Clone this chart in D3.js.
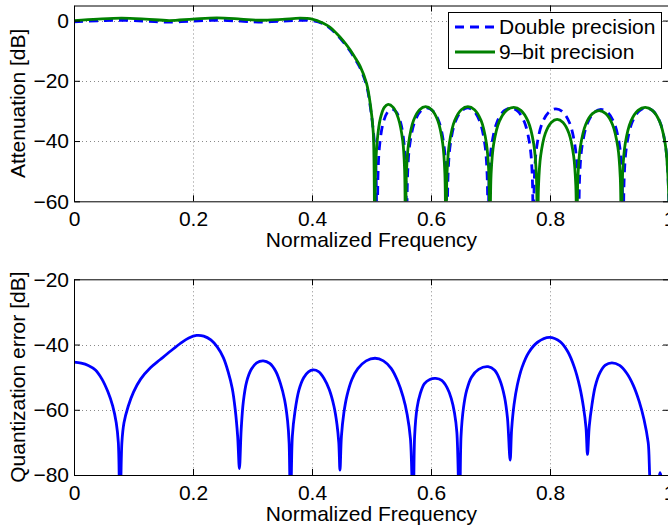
<!DOCTYPE html>
<html>
<head>
<meta charset="utf-8">
<script src="https://cdn.jsdelivr.net/npm/d3@7"></script>
<style>
  body { margin: 0; background: #fff; }
  text { font-family: "Liberation Sans", Arial, Helvetica, sans-serif; fill: #000; }
</style>
</head>
<body>
<svg id="chart" width="668" height="528"></svg>
<script>
// tick values / labels
var xTicks = [0, 0.2, 0.4, 0.6, 0.8, 1]
var xTickLabels = ["0", "0.2", "0.4", "0.6", "0.8", "1"]
var topYTicks = [0, -20, -40, -60]
var bottomYTicks = [-20, -40, -60, -80]
var legendLabels = ["Double precision", "9\u2013bit precision"]

// [normalized frequency, dB]
var doublePrecision = [
  [0, -0.4], [0.04, -0.1], [0.08, 0.1], [0.12, -0.2], [0.155, -0.5], [0.2, -0.2], [0.24, 0.1],
  [0.28, -0.2], [0.31, -0.5], [0.35, -0.2], [0.385, 0.1], [0.40, 0.0], [0.419, -1.1], [0.43, -2.5],
  [0.441, -4.5], [0.453, -7.2], [0.464, -10.1], [0.473, -13.0], [0.481, -15.8], [0.4916, -21.5],
  [0.4986, -29.5], [0.504, -38.5], [0.507, -46], [0.5097, -80],
  [0.5109, -51.5], [0.5136, -41.5], [0.5196, -34.0], [0.527, -30.4], [0.5344, -29.4], [0.5417, -30.4],
  [0.5491, -34.0], [0.5551, -41.5], [0.5578, -51.5], [0.559, -80],
  [0.5607, -51.1], [0.5644, -41.1], [0.5726, -33.6], [0.5828, -30.0], [0.593, -29.0], [0.6032, -30.0],
  [0.6134, -33.6], [0.6216, -41.1], [0.6253, -51.1], [0.627, -80],
  [0.6287, -51.1], [0.6325, -41.1], [0.6408, -33.6], [0.6512, -30.0], [0.6615, -29.0], [0.6719, -30.0],
  [0.6822, -33.6], [0.6905, -41.1], [0.6943, -51.1], [0.696, -80],
  [0.6979, -51.1], [0.7021, -41.1], [0.7112, -33.6], [0.7226, -30.0], [0.734, -29.0], [0.7454, -30.0],
  [0.7568, -33.6], [0.7659, -41.1], [0.7701, -51.1], [0.772, -80],
  [0.7739, -51.4], [0.7781, -41.4], [0.7872, -33.9], [0.7986, -30.3], [0.81, -29.3], [0.8214, -30.3],
  [0.8328, -33.9], [0.8419, -41.4], [0.8461, -51.4], [0.848, -80],
  [0.8499, -51.6], [0.854, -41.6], [0.863, -34.1], [0.8743, -30.5], [0.8855, -29.5], [0.8968, -30.5],
  [0.908, -34.1], [0.917, -41.6], [0.9211, -51.6], [0.923, -80],
  [0.9249, -51.1], [0.9292, -41.1], [0.9384, -33.6], [0.95, -30.0], [0.9615, -29.0], [0.973, -30.0],
  [0.9846, -33.6], [0.9938, -41.1], [0.9981, -51.1], [1.0, -62]
]

var nineBitPrecision = [
  [0, 0.0], [0.04, 0.5], [0.08, 0.8], [0.12, 0.5], [0.16, 0.0], [0.20, 0.5], [0.24, 0.9], [0.28, 0.5],
  [0.31, 0.1], [0.35, 0.4], [0.38, 0.8], [0.40, 0.5], [0.419, -0.9], [0.43, -2.2], [0.441, -4.2],
  [0.453, -6.8], [0.464, -9.7], [0.473, -12.5], [0.481, -15.2], [0.4916, -20.8], [0.4986, -28.6],
  [0.503, -37.3], [0.5055, -80],
  [0.5068, -49.9], [0.5096, -39.9], [0.515, -32.4], [0.5215, -28.8], [0.528, -27.8], [0.5365, -28.8],
  [0.545, -32.4], [0.5525, -39.9], [0.5557, -49.9], [0.557, -80],
  [0.5587, -50.7], [0.5624, -40.7], [0.5706, -33.2], [0.5808, -29.6], [0.591, -28.6], [0.6012, -29.6],
  [0.6114, -33.2], [0.6196, -40.7], [0.6233, -50.7], [0.625, -80],
  [0.6269, -50.7], [0.6309, -40.7], [0.6398, -33.2], [0.6509, -29.6], [0.662, -28.6], [0.6731, -29.6],
  [0.6842, -33.2], [0.6931, -40.7], [0.6972, -50.7], [0.699, -80],
  [0.701, -50.9], [0.7054, -40.9], [0.715, -33.4], [0.727, -29.8], [0.739, -28.8], [0.751, -29.8],
  [0.763, -33.4], [0.7726, -40.9], [0.777, -50.9], [0.779, -80],
  [0.7807, -54.9], [0.7843, -44.9], [0.7922, -37.4], [0.8021, -33.8], [0.812, -32.8], [0.8219, -33.8],
  [0.8318, -37.4], [0.8397, -44.9], [0.8434, -54.9], [0.845, -80],
  [0.8469, -52.0], [0.851, -42.0], [0.86, -34.5], [0.8713, -30.9], [0.8825, -29.9], [0.8938, -30.9],
  [0.905, -34.5], [0.914, -42.0], [0.9181, -52.0], [0.920, -80],
  [0.922, -50.9], [0.9264, -40.9], [0.936, -33.4], [0.948, -29.8], [0.96, -28.8], [0.972, -29.8],
  [0.984, -33.4], [0.9936, -40.9], [0.998, -50.9], [1.0, -62]
]

var quantizationError = [
  [0, -45.4], [0.012, -45.7], [0.024, -46.4], [0.036, -47.8], [0.047, -50.6], [0.057, -54.5],
  [0.065, -58.8], [0.071, -64], [0.0745, -70], [0.0773, -95],
  [0.0805, -70], [0.084, -64], [0.091, -59], [0.1, -54.6], [0.112, -50.6], [0.128, -47.2],
  [0.145, -44.6], [0.163, -41.9], [0.18, -39.5], [0.193, -38], [0.206, -37.2], [0.218, -37.4],
  [0.23, -38.6], [0.241, -40.8], [0.251, -44], [0.259, -48.3], [0.266, -53.5], [0.271, -60],
  [0.275, -68], [0.278, -78],
  [0.281, -66], [0.2846, -57.5], [0.29, -51.5], [0.298, -47.6], [0.307, -45.6], [0.318, -45.0],
  [0.329, -45.8], [0.339, -48.2], [0.347, -52], [0.354, -57], [0.359, -63.5], [0.3615, -70], [0.364, -95],
  [0.367, -68], [0.3714, -60.5], [0.378, -54], [0.386, -50.2], [0.394, -48.4], [0.402, -47.8],
  [0.411, -48.3], [0.42, -50.3], [0.429, -53.8], [0.437, -59], [0.442, -64.5], [0.445, -70], [0.447, -78.5],
  [0.4495, -68], [0.4535, -61], [0.459, -55.5], [0.467, -50.7], [0.477, -47.4], [0.491, -45], [0.506, -44.2],
  [0.52, -45], [0.533, -47.3], [0.544, -51.2], [0.553, -56], [0.56, -61.5], [0.5655, -69], [0.570, -95],
  [0.5725, -68], [0.5765, -59.5], [0.582, -55], [0.589, -52], [0.598, -50.7], [0.608, -50.4], [0.618, -51],
  [0.627, -53.2], [0.634, -56.5], [0.6395, -61], [0.6435, -67], [0.648, -95],
  [0.6505, -68], [0.6545, -59.5], [0.66, -54], [0.668, -50], [0.68, -47.6], [0.696, -46.8], [0.707, -47.9],
  [0.716, -51], [0.7235, -56], [0.7285, -62.5], [0.733, -75.4],
  [0.7355, -66], [0.7395, -58.5], [0.745, -52.5], [0.753, -47], [0.764, -42.5], [0.779, -39.3],
  [0.799, -37.8], [0.817, -39.1], [0.83, -42.2], [0.841, -47], [0.85, -53], [0.8565, -59.5],
  [0.8605, -65.5], [0.863, -73.7],
  [0.866, -65], [0.8705, -58.5], [0.876, -52.8], [0.884, -48.6], [0.893, -46.3], [0.904, -45.6],
  [0.917, -46.4], [0.929, -48.8], [0.94, -52.5], [0.95, -57.5], [0.958, -63], [0.965, -70], [0.972, -85],
  [0.980, -84], [0.985, -79.3], [0.990, -84], [1.0, -95]
]

var svg = d3.select("#chart")
var fontSize = 21

var x_scale = d3.scaleLinear().domain([0, 1]).range([74, 669])

function draw_panel (id, y_scale, y_ticks, y_label, series) {
	var x0 = x_scale.range()[0], x1 = x_scale.range()[1],
	    y0 = y_scale.range()[1], y1 = y_scale.range()[0]
	var g = svg.append("g").attr("class", "panel-" + id)

	g.append("clipPath").attr("id", "clip-" + id)
	 .append("rect").attr("x", x0).attr("y", y0).attr("width", x1 - x0).attr("height", y1 - y0)

	// dotted grid
	var grid = g.append("g").attr("stroke", "#8a8a8a").attr("stroke-width", 1)
	            .attr("stroke-dasharray", "1,3")
	grid.selectAll(".gx").data(xTicks.filter(d => d > 0 && d < 1)).enter()
	  .append("line")
	  .attr("x1", d => Math.round(x_scale(d)) + 0.5).attr("x2", d => Math.round(x_scale(d)) + 0.5)
	  .attr("y1", y0).attr("y2", y1)
	var yd = y_scale.domain()
	grid.selectAll(".gy").data(y_ticks.filter(d => d > yd[0] && d < yd[1])).enter()
	  .append("line")
	  .attr("y1", d => Math.round(y_scale(d)) + 0.5).attr("y2", d => Math.round(y_scale(d)) + 0.5)
	  .attr("x1", x0).attr("x2", x1)

	// curves
	var line = d3.line().x(d => x_scale(d[0])).y(d => y_scale(d[1])).curve(d3.curveCatmullRom.alpha(0.5))
	var lines = g.append("g").attr("clip-path", "url(#clip-" + id + ")")
	series.forEach(s => {
		lines.append("path")
		  .datum(s.data)
		  .attr("d", line)
		  .attr("fill", "none")
		  .attr("stroke", s.color)
		  .attr("stroke-width", 2.8)
		  .attr("stroke-dasharray", s.dash || null)
		  .attr("stroke-linejoin", "round")
	})

	// axes, ticks pointing inward on all four sides
	var ax_bottom = d3.axisBottom(x_scale).tickValues(xTicks).tickSizeInner(-6).tickSizeOuter(0)
	                  .tickPadding(10).tickFormat((d, i) => xTickLabels[i])
	var ax_top = d3.axisTop(x_scale).tickValues(xTicks).tickSizeInner(-6).tickSizeOuter(0).tickFormat("")
	var ax_left = d3.axisLeft(y_scale).tickValues(y_ticks).tickSizeInner(-6).tickSizeOuter(0)
	                .tickPadding(5).tickFormat(d => d < 0 ? "\u2212" + Math.abs(d) : String(d))
	var ax_right = d3.axisRight(y_scale).tickValues(y_ticks).tickSizeInner(-6).tickSizeOuter(0).tickFormat("")

	var axes = [
		[ax_bottom, "translate(0," + y1 + ")"],
		[ax_top, "translate(0," + y0 + ")"],
		[ax_left, "translate(" + x0 + ",0)"],
		[ax_right, "translate(" + x1 + ",0)"]
	]
	axes.forEach(a => {
		var ag = g.append("g").attr("transform", a[1]).call(a[0])
		ag.selectAll("path, line").attr("stroke", "#000").attr("stroke-width", 1)
		ag.selectAll("text").style("font-size", fontSize + "px").attr("fill", "#000")
		ag.attr("font-family", null).attr("font-size", null)
	})

	// axis labels
	g.append("text")
	  .attr("x", (x0 + x1) / 2).attr("y", y1 + 46)
	  .attr("text-anchor", "middle").style("font-size", fontSize + "px")
	  .text("Normalized Frequency")
	g.append("text")
	  .attr("transform", "translate(25," + (y0 + y1) / 2 + ") rotate(-90)")
	  .attr("text-anchor", "middle").style("font-size", fontSize + "px")
	  .text(y_label)

	return g
}

var y_top = d3.scaleLinear().domain([-60, 5]).range([201.3, 5.5])
var y_bottom = d3.scaleLinear().domain([-80, -20]).range([475, 279.3])

draw_panel("top", y_top, topYTicks, "Attenuation [dB]", [
	{data: doublePrecision, color: "#0000ff", dash: "9,6"},
	{data: nineBitPrecision, color: "#008000"}
])
draw_panel("bottom", y_bottom, bottomYTicks, "Quantization error [dB]", [
	{data: quantizationError, color: "#0000ff"}
])

// legend
var legend = svg.append("g").attr("class", "legend")
legend.append("rect")
  .attr("x", 448.5).attr("y", 12.5).attr("width", 213).attr("height", 56)
  .attr("fill", "#fff").attr("stroke", "#000").attr("stroke-width", 1)
var legend_items = [
	{label: legendLabels[0], color: "#0000ff", dash: "9,6"},
	{label: legendLabels[1], color: "#008000"}
]
legend.selectAll(".legend-item").data(legend_items).enter()
  .append("g").attr("class", "legend-item")
  .attr("transform", (d, i) => "translate(0," + (27 + i * 25) + ")")
  .each(function (d) {
	var it = d3.select(this)
	it.append("line").attr("x1", 455).attr("x2", 495).attr("y1", 0).attr("y2", 0)
	  .attr("stroke", d.color).attr("stroke-width", 2.8).attr("stroke-dasharray", d.dash || null)
	it.append("text").attr("x", 499).attr("y", 0).attr("dy", "0.35em")
	  .style("font-size", fontSize + "px").text(d.label)
  })
</script>
</body>
</html>
